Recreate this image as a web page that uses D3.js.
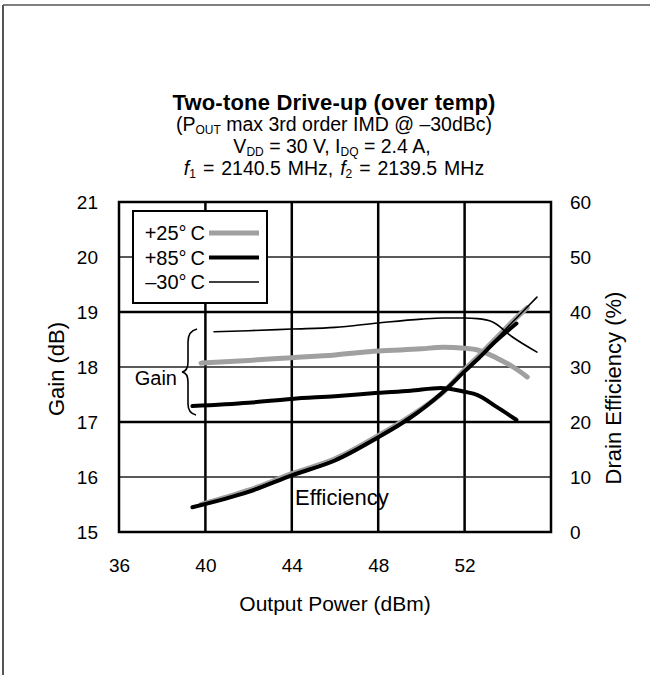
<!DOCTYPE html>
<html><head><meta charset="utf-8">
<script src="https://cdn.jsdelivr.net/npm/d3@7"></script>
<style>
html,body{margin:0;padding:0;background:#fff;}
svg{display:block;font-family:"Liberation Sans",Arial,sans-serif;}
</style></head>
<body><svg id="c" width="650" height="675"></svg>
<script>
// ---- data ----
const xTicks = [36, 40, 44, 48, 52, 56];
const xTickLabels = ["36", "40", "44", "48", "52", ""];
const gainTicks = [15, 16, 17, 18, 19, 20, 21];
const effTicks = [0, 10, 20, 30, 40, 50, 60];

const pout25 = [39.8, 42, 44, 46, 48, 50, 51, 52, 52.6, 53.5, 54.25, 54.9];
const gain25 = [18.07, 18.12, 18.17, 18.22, 18.29, 18.33, 18.36, 18.34, 18.31, 18.16, 18.0, 17.82];
const eff25  = [5.0, 7.6, 10.6, 13.3, 17.5, 22.4, 25.4, 29.5, 31.8, 35.4, 38.4, 40.8];

const pout85 = [39.4, 42, 44, 46, 48, 49.5, 50.9, 52, 52.6, 53.5, 54.4];
const gain85 = [17.29, 17.35, 17.42, 17.47, 17.53, 17.57, 17.62, 17.55, 17.49, 17.27, 17.04];
const eff85  = [4.5, 7.3, 10.3, 13.0, 17.2, 20.8, 25.1, 29.2, 31.4, 34.9, 37.9];

const pout30 = [40.4, 42, 44, 46, 48, 50, 51, 52, 52.6, 53.3, 54.2, 55.35];
const gain30 = [18.64, 18.66, 18.69, 18.72, 18.8, 18.87, 18.89, 18.89, 18.88, 18.82, 18.55, 18.27];
const eff30  = [5.4, 7.5, 10.4, 13.2, 17.4, 22.4, 25.3, 29.3, 31.6, 34.4, 38.1, 42.7];

const legendLabels = ["+25°\u2009C", "+85°\u2009C", "\u201330°\u2009C"];

// ---- layout ----
const svg = d3.select("#c");
const X0 = 119, X1 = 551, Y0 = 202, Y1 = 532;
const x = d3.scaleLinear().domain([36, 56]).range([X0, X1]);
const yG = d3.scaleLinear().domain([15, 21]).range([Y1, Y0]);
const yE = d3.scaleLinear().domain([0, 60]).range([Y1, Y0]);
const FS = 19.5, SUB = 12;

// outer frame
svg.append("line").attr("x1", 3).attr("y1", 5).attr("x2", 3).attr("y2", 675).attr("stroke", "#555").attr("stroke-width", 2);
svg.append("line").attr("x1", 3).attr("y1", 5).attr("x2", 650).attr("y2", 5).attr("stroke", "#555").attr("stroke-width", 1.5);

// title
svg.append("text").attr("text-anchor", "middle").attr("x", 334).attr("y", 110)
  .attr("font-weight", "bold").attr("font-size", 22).attr("letter-spacing", 0.2).text("Two-tone Drive-up (over temp)");
const l2 = svg.append("text").attr("text-anchor", "middle").attr("font-size", FS).attr("x", 334).attr("y", 131);
l2.append("tspan").text("(P");
l2.append("tspan").attr("font-size", SUB).attr("dy", 2.5).text("OUT");
l2.append("tspan").attr("dy", -2.5).text(" max 3rd order IMD @ \u201330dBc)");
const l3 = svg.append("text").attr("text-anchor", "middle").attr("font-size", FS).attr("x", 332).attr("y", 153);
l3.append("tspan").text("V");
l3.append("tspan").attr("font-size", SUB).attr("dy", 2.5).text("DD");
l3.append("tspan").attr("dy", -2.5).text(" = 30 V, I");
l3.append("tspan").attr("font-size", SUB).attr("dy", 2.5).text("DQ");
l3.append("tspan").attr("dy", -2.5).text(" = 2.4 A,");
const l4 = svg.append("text").attr("text-anchor", "middle").attr("font-size", FS).attr("x", 334).attr("y", 175).attr("word-spacing", 1.5);
l4.append("tspan").attr("font-style", "italic").text("f");
l4.append("tspan").attr("font-size", SUB).attr("dy", 2.5).text("1");
l4.append("tspan").attr("dy", -2.5).text(" = 2140.5 MHz, ");
l4.append("tspan").attr("font-style", "italic").text("f");
l4.append("tspan").attr("font-size", SUB).attr("dy", 2.5).text("2");
l4.append("tspan").attr("dy", -2.5).text(" = 2139.5 MHz");

// grid
const g = svg.append("g");
xTicks.slice(1, -1).forEach(v => {
  g.append("line").attr("x1", x(v)).attr("x2", x(v)).attr("y1", Y0).attr("y2", Y1).attr("stroke", "#000").attr("stroke-width", 2.5);
});
gainTicks.slice(1, -1).forEach(v => {
  const major = (v === 19 || v === 17);
  g.append("line").attr("x1", X0).attr("x2", X1).attr("y1", yG(v)).attr("y2", yG(v))
    .attr("stroke", major ? "#000" : "#222").attr("stroke-width", major ? 2.5 : 1.6);
});

// axes labels
const axL = svg.append("g").attr("transform", `translate(${X0},0)`)
  .call(d3.axisLeft(yG).tickValues(gainTicks).tickSize(0).tickPadding(21).tickFormat(d3.format("d")));
const axR = svg.append("g").attr("transform", `translate(${X1},0)`)
  .call(d3.axisRight(yE).tickValues(effTicks).tickSize(0).tickPadding(19).tickFormat(d3.format("d")));
const axB = svg.append("g").attr("transform", `translate(0,${Y1})`)
  .call(d3.axisBottom(x).tickValues(xTicks).tickSize(0).tickPadding(27).tickFormat((d, i) => xTickLabels[i]));
[axL, axR, axB].forEach(a => {
  a.select(".domain").remove();
  a.selectAll("text").attr("font-size", 19).attr("font-family", "Liberation Sans, Arial, sans-serif").attr("fill", "#000");
});

svg.append("text").attr("x", 335).attr("y", 611).attr("text-anchor", "middle").attr("font-size", 21).text("Output Power (dBm)");
svg.append("text").attr("transform", "translate(64,369) rotate(-90)").attr("text-anchor", "middle").attr("font-size", 22).text("Gain (dB)");
svg.append("text").attr("transform", "translate(621,388) rotate(-90)").attr("text-anchor", "middle").attr("font-size", 22).text("Drain Efficiency (%)");

// curves
const lineG = d3.line().curve(d3.curveMonotoneX);
const lineE = d3.line().curve(d3.curveCatmullRom);
function pts(xs, ys, ys2) { return xs.map((v, i) => [x(v), ys2(ys[i])]); }
const series = [
  {p: pout25, g: gain25, e: eff25, color: "#a0a0a0", w: 5},
  {p: pout85, g: gain85, e: eff85, color: "#000", w: 4},
  {p: pout30, g: gain30, e: eff30, color: "#000", w: 1.6}
];
const cg = svg.append("g").attr("fill", "none").attr("stroke-linecap", "round").attr("stroke-linejoin", "round");
series.forEach(s => {
  cg.append("path").attr("d", lineG(pts(s.p, s.g, yG))).attr("stroke", s.color).attr("stroke-width", s.w);
  cg.append("path").attr("d", lineE(pts(s.p, s.e, yE))).attr("stroke", s.color).attr("stroke-width", s.w);
});

// frame
svg.append("rect").attr("x", X0).attr("y", Y0).attr("width", X1 - X0).attr("height", Y1 - Y0)
  .attr("fill", "none").attr("stroke", "#000").attr("stroke-width", 2.5);

// legend
const lg = svg.append("g");
lg.append("rect").attr("x", 133).attr("y", 211).attr("width", 134).attr("height", 92).attr("fill", "#fff").attr("stroke", "#000").attr("stroke-width", 2);
series.forEach((s, i) => {
  const yy = 233 + i * 24.5;
  lg.append("text").attr("x", 205).attr("y", yy).attr("dy", "0.35em").attr("text-anchor", "end").attr("font-size", 20).text(legendLabels[i]);
  lg.append("line").attr("x1", 209).attr("x2", 259).attr("y1", yy).attr("y2", yy).attr("stroke", s.color).attr("stroke-width", s.w);
});

// annotations
svg.append("text").attr("x", 177).attr("y", 378).attr("dy", "0.35em").attr("text-anchor", "end").attr("font-size", 20).text("Gain");
svg.append("path").attr("d", "M197,329 Q188,331 188,342 L188,362 Q188,371 182,372 Q188,373 188,382 L188,404 Q188,413 196,415")
  .attr("fill", "none").attr("stroke", "#000").attr("stroke-width", 1.6);
svg.append("text").attr("x", 295).attr("y", 497).attr("dy", "0.35em").attr("font-size", 22).text("Efficiency");
</script></body></html>
